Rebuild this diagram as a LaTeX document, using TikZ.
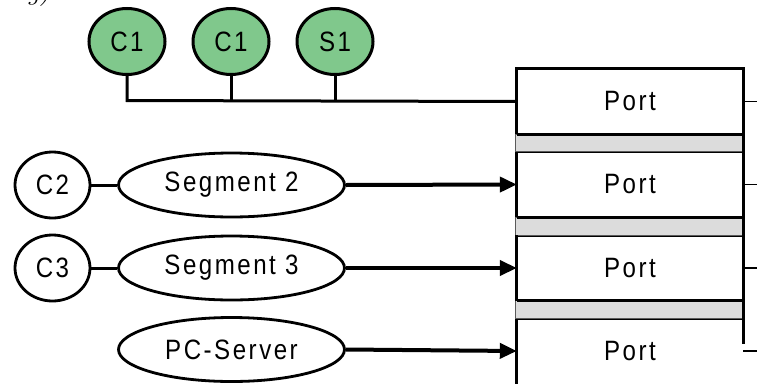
\documentclass[tikz,border=0pt]{standalone}
\usepackage{fontspec}
\setmainfont[FakeStretch=0.86,LetterSpace=9]{Liberation Sans}
\newfontfamily\lmserif{Latin Modern Roman}
\usetikzlibrary{arrows.meta,shapes.geometric}
\begin{document}
\begin{tikzpicture}[x=1pt,y=-1pt,
  lbl/.style={font=\fontsize{28}{30}\selectfont},
  greennode/.style={ellipse,draw,line width=3pt,fill={rgb,255:red,128;green,200;blue,140},minimum width=76pt,minimum height=66pt,inner sep=0pt,lbl},
  whitenode/.style={ellipse,draw,line width=2.8pt,fill=white,minimum width=75pt,minimum height=66pt,inner sep=0pt,lbl},
  segnode/.style={ellipse,draw,line width=2.8pt,fill=white,minimum width=226pt,minimum height=64pt,inner sep=0pt,lbl},
  portnode/.style={rectangle,draw=none,minimum width=226pt,minimum height=65pt,inner sep=0pt,lbl},
  boxline/.style={line width=3pt},
  graybar/.style={fill={rgb,255:red,220;green,220;blue,220},draw={rgb,255:red,90;green,90;blue,90},line width=0.8pt},
  conn/.style={line width=3pt},
  arr/.style={line width=4pt,-{Triangle[length=17pt,width=15pt]}},
  stub/.style={line width=1.2pt}]
\useasboundingbox (0,0) rectangle (757,383);
% partial caption fragment at top
\node[anchor=base west,inner sep=0pt,font=\lmserif\itshape\fontsize{28}{30}\selectfont] (frag) at (27,-1) {g)};
% port boxes
\node[portnode] (p1) at (630,101.5) {Port};
\node[portnode] (p2) at (630,184.5) {Port};
\node[portnode] (p3) at (630,268) {Port};
\node[portnode] (p4) at (630,351) {Port};
\draw[boxline] (p1.south west) rectangle (p1.north east);
\draw[boxline] (p2.south west) rectangle (p2.north east);
\draw[boxline] (p3.south west) rectangle (p3.north east);
\draw[boxline] (p4.south west) ++(0,20) -- (p4.north west) -- (p4.north east) -- ++(0,-60);
% gray bars between ports
\draw[graybar] ([xshift=-1pt]p1.south west) rectangle ([xshift=0pt]p2.north east);
\draw[graybar] ([xshift=-1pt]p2.south west) rectangle ([xshift=0pt]p3.north east);
\draw[graybar] ([xshift=-1pt]p3.south west) rectangle ([xshift=0pt]p4.north east);
\draw[boxline] (p1.north east) -- ([yshift=40pt]p4.south east);
\draw[boxline] (p1.north west) -- (p1.south west);
\draw[boxline] (p2.north west) -- (p2.south west);
\draw[boxline] (p3.north west) -- (p3.south west);
\draw[boxline] (p1.south west) -- (p1.south east);
\draw[boxline] (p2.south west) -- (p2.south east);
\draw[boxline] (p3.south west) -- (p3.south east);
% right stubs
\coordinate (r1) at (757,101.5);
\coordinate (r2) at (757,184.5);
\coordinate (r3) at (757,268);
\coordinate (r4) at (757,351);
\draw[stub] (p1.east) -- (r1);
\draw[stub] (p2.east) -- (r2);
\draw[stub] (p3.east) -- (r3);
\draw[stub] (p4.east) -- (r4);
% green segment 1
\node[greennode] (c1a) at (127,41.5) {C1};
\node[greennode] (c1b) at (231,41.5) {C1};
\node[greennode] (s1) at (335,41.5) {S1};
\coordinate (j1) at (127,100.5);
\coordinate (j2) at (231,100.5);
\coordinate (j3) at (335,100.5);
\draw[conn] (c1a.south) -- (j1) -- (p1.west);
\draw[conn] (c1b.south) -- (j2);
\draw[conn] (s1.south) -- (j3);
% segment 2
\node[whitenode] (c2) at (52.5,185) {C2};
\node[segnode] (seg2) at (231.5,185) {Segment 2};
\draw[conn] (c2) -- (seg2);
\draw[arr] (seg2.east) -- (p2.west);
% segment 3
\node[whitenode] (c3) at (52.5,268) {C3};
\node[segnode] (seg3) at (231.5,268) {Segment 3};
\draw[conn] (c3) -- (seg3);
\draw[arr] (seg3.east) -- (p3.west);
% PC server
\node[segnode] (pcs) at (231.5,349.5) {PC-Server};
\draw[arr] (pcs.east) -- (p4.west);
\end{tikzpicture}
\end{document}
